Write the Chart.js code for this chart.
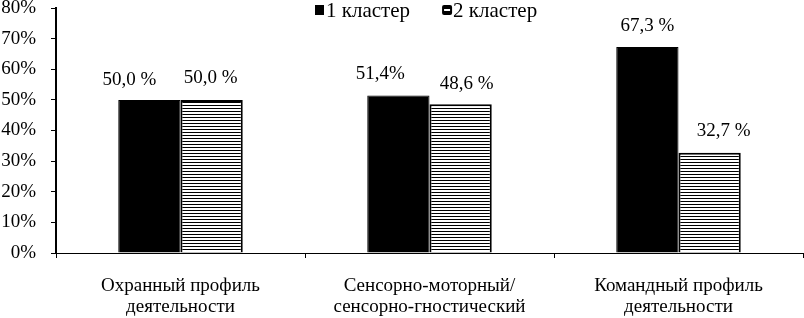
<!DOCTYPE html>
<html>
<head>
<meta charset="utf-8">
<script src="https://cdn.jsdelivr.net/npm/chart.js@4.4.1/dist/chart.umd.min.js"></script>
<style>
  html, body { margin: 0; padding: 0; background: #fff; }
  #wrap { width: 804px; height: 318px; }
</style>
</head>
<body>
<div id="wrap"><canvas id="clusterChart"></canvas></div>
<script>
const categories = [
    ['Охранный профиль', 'деятельности'],
    ['Сенсорно-моторный/', 'сенсорно-гностический'],
    ['Командный профиль', 'деятельности']
];
const seriesNames = ['1 кластер', '2 кластер'];
const cluster1 = [50.0, 51.4, 67.3];
const cluster2 = [50.0, 48.6, 32.7];
const cluster1Labels = ['50,0 %', '51,4%', '67,3 %'];
const cluster2Labels = ['50,0 %', '48,6 %', '32,7 %'];
const yTicks = [0, 10, 20, 30, 40, 50, 60, 70, 80];

const FONT = '"Liberation Serif", "Times New Roman", serif';

// horizontal stripes for the second cluster
function makeStripes() {
    const c = document.createElement('canvas');
    c.width = 4;
    c.height = 3;
    const g = c.getContext('2d');
    g.fillStyle = '#fff';
    g.fillRect(0, 0, 4, 3);
    g.fillStyle = '#000';
    g.fillRect(0, 0, 4, 1);
    return g.createPattern(c, 'repeat');
}
const stripes = makeStripes();

// data labels were nudged by hand in the original, keep the same nudges
const labelShift = [
    [{ dx: -20, gap: 15 }, { dx: -18, gap: 17 }, { dx: 0, gap: 16 }],
    [{ dx: -1, gap: 17 }, { dx: 6, gap: 15 }, { dx: 14, gap: 17 }]
];

const valueLabels = {
    id: 'valueLabels',
    afterDatasetsDraw(chart) {
        const ctx = chart.ctx;
        const texts = [cluster1Labels, cluster2Labels];
        ctx.save();
        ctx.font = '19px ' + FONT;
        ctx.fillStyle = '#000';
        ctx.textAlign = 'center';
        ctx.textBaseline = 'alphabetic';
        chart.data.datasets.forEach((ds, i) => {
            chart.getDatasetMeta(i).data.forEach((bar, j) => {
                const s = labelShift[i][j];
                ctx.fillText(texts[i][j], bar.x + s.dx, bar.y - s.gap);
            });
        });
        ctx.restore();
    }
};

// legend sits inside the plot, at the top centre
const topLegend = {
    id: 'topLegend',
    afterDraw(chart) {
        const ctx = chart.ctx;
        const area = chart.chartArea;
        ctx.save();
        ctx.font = '21px ' + FONT;
        ctx.textBaseline = 'alphabetic';
        ctx.textAlign = 'left';
        const box = 10, gapText = 1, gapItem = 32;
        const w1 = ctx.measureText(seriesNames[0]).width;
        const w2 = ctx.measureText(seriesNames[1]).width;
        const total = box + gapText + w1 + gapItem + box + gapText + w2;
        let x = Math.round((area.left + area.right) / 2 - total / 2) - 3;
        const y = 5;
        ctx.fillStyle = '#000';
        ctx.fillRect(x, y, box - 1, box);
        ctx.fillText(seriesNames[0], x + box + gapText, y + 12);
        x += box + gapText + w1 + gapItem;
        ctx.beginPath();
        ctx.roundRect(x, y, box, box, 2);
        ctx.fill();
        ctx.fillStyle = '#fff';
        ctx.fillRect(x + 2, y + 4, box - 4, 2);
        ctx.fillStyle = '#000';
        ctx.fillText(seriesNames[1], x + box + gapText, y + 12);
        ctx.restore();
    }
};

const ctx = document.getElementById('clusterChart').getContext('2d');
const clusterChart = new Chart(ctx, {
    type: 'bar',
    data: {
        labels: categories,
        datasets: [{
            label: seriesNames[0],
            data: cluster1,
            backgroundColor: '#000',
            borderColor: '#000',
            borderWidth: 1
        }, {
            label: seriesNames[1],
            data: cluster2,
            backgroundColor: stripes,
            borderColor: '#000',
            borderWidth: 2
        }]
    },
    options: {
        responsive: true,
        maintainAspectRatio: false,
        animation: false,
        categoryPercentage: 0.5,
        barPercentage: 1.0,
        layout: { padding: { top: 0, right: 1, left: 0, bottom: 0 } },
        plugins: {
            legend: { display: false },
            tooltip: { enabled: false }
        },
        scales: {
            x: {
                afterFit(scale) {
                    scale.height = 65;
                    scale.paddingTop = 0;
                },
                grid: {
                    display: true,
                    drawOnChartArea: false,
                    drawTicks: true,
                    tickLength: 5,
                    color: '#000'
                },
                border: { color: '#000', width: 1 },
                ticks: {
                    color: '#000',
                    font: { family: FONT, size: 19, lineHeight: 1.1 },
                    padding: 18,
                    maxRotation: 0
                }
            },
            y: {
                min: 0,
                max: 80,
                afterBuildTicks(scale) {
                    scale.ticks = yTicks.map(v => ({ value: v }));
                },
                afterFit(scale) {
                    scale.width = 56;
                    scale.paddingTop = 8;
                },
                grid: {
                    display: true,
                    drawOnChartArea: false,
                    drawTicks: true,
                    tickLength: 5,
                    color: '#000'
                },
                border: { color: '#000', width: 2 },
                ticks: {
                    color: '#000',
                    font: { family: FONT, size: 19 },
                    padding: 15,
                    callback: v => v + '%'
                }
            }
        }
    },
    plugins: [valueLabels, topLegend]
});
</script>
</body>
</html>
